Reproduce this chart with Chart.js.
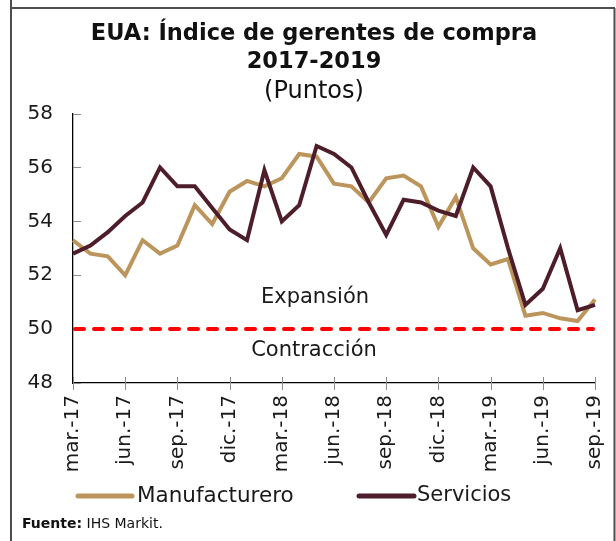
<!DOCTYPE html>
<html>
<head>
<meta charset="utf-8">
<script src="https://cdn.jsdelivr.net/npm/chart.js@4.4.1/dist/chart.umd.min.js"></script>
<style>
  html, body { margin: 0; padding: 0; background: #fff; }
  #wrap { position: relative; width: 616px; height: 541px; }
  canvas { display: block; }
</style>
</head>
<body>
<div id="wrap"><canvas id="c" width="616" height="541"></canvas></div>
<script>
// ---- data ----
const categories = [
  'mar.-17','abr.-17','may.-17','jun.-17','jul.-17','ago.-17','sep.-17','oct.-17','nov.-17','dic.-17',
  'ene.-18','feb.-18','mar.-18','abr.-18','may.-18','jun.-18','jul.-18','ago.-18','sep.-18','oct.-18',
  'nov.-18','dic.-18','ene.-19','feb.-19','mar.-19','abr.-19','may.-19','jun.-19','jul.-19','ago.-19','sep.-19'
];
const manufacturero = [
  53.3, 52.8, 52.7, 52.0, 53.3, 52.8, 53.1, 54.6, 53.9, 55.1,
  55.5, 55.3, 55.6, 56.5, 56.4, 55.4, 55.3, 54.7, 55.6, 55.7,
  55.3, 53.8, 54.9, 53.0, 52.4, 52.6, 50.5, 50.6, 50.4, 50.3, 51.1
];
const servicios = [
  52.8, 53.1, 53.6, 54.2, 54.7, 56.0, 55.3, 55.3, 54.5, 53.7,
  53.3, 55.9, 54.0, 54.6, 56.8, 56.5, 56.0, 54.7, 53.5, 54.8,
  54.7, 54.4, 54.2, 56.0, 55.3, 53.0, 50.9, 51.5, 53.0, 50.7, 50.9
];
const seriesNames = ['Manufacturero', 'Servicios'];
const yMin = 48, yMax = 58, yStep = 2;
const thresholdValue = 50;
const zoneLabels = ['Expansión', 'Contracción'];
const titleLines = ['EUA: Índice de gerentes de compra', '2017-2019'];
const subtitleText = '(Puntos)';
const sourceBold = 'Fuente:';
const sourceText = ' IHS Markit.';

// ---- styles ----
const FONT = "'DejaVu Sans', sans-serif";
const colTan = '#BC955C';
const colWine = '#4E1D2A';
const textCol = '#1a1a1a';

const decor = {
  id: 'decor',
  afterLayout(chart) {
    // let the y tick labels use the space to the left of the axis box (avoid clipping)
    const ys = chart.scales.y;
    ys.left = 0;
    ys.width = ys.right;
  },
  beforeDraw(chart) {
    const ctx = chart.ctx;
    ctx.save();
    ctx.fillStyle = '#fff';
    ctx.fillRect(0, 0, chart.width, chart.height);
    ctx.strokeStyle = '#4d4d4d';
    ctx.lineWidth = 2;
    ctx.beginPath();
    ctx.moveTo(11, 0); ctx.lineTo(11, chart.height);
    ctx.moveTo(10, 8); ctx.lineTo(615, 8);
    ctx.moveTo(614.5, 8); ctx.lineTo(614.5, chart.height);
    ctx.stroke();
    ctx.restore();
  },
  beforeDatasetsDraw(chart) {
    const ctx = chart.ctx, ca = chart.chartArea;
    const y = chart.scales.y, x = chart.scales.x;
    ctx.save();
    ctx.strokeStyle = '#8c8c8c';
    ctx.lineWidth = 1;
    for (let v = yMin; v <= yMax; v += yStep) {
      const py = Math.round(y.getPixelForValue(v)) + 0.5;
      ctx.beginPath(); ctx.moveTo(ca.left, py); ctx.lineTo(ca.left + 8, py); ctx.stroke();
    }
    for (let i = 0; i < categories.length; i += 3) {
      const px = Math.round(x.getPixelForValue(i)) + 0.5;
      ctx.beginPath(); ctx.moveTo(px, ca.bottom - 6); ctx.lineTo(px, ca.bottom + 7); ctx.stroke();
    }
    const ty = y.getPixelForValue(thresholdValue);
    ctx.strokeStyle = '#FF0000';
    ctx.lineWidth = 4;
    ctx.lineCap = 'round';
    ctx.setLineDash([9, 10]);
    ctx.beginPath(); ctx.moveTo(ca.left + 2, ty); ctx.lineTo(ca.right - 2, ty); ctx.stroke();
    ctx.setLineDash([]);
    ctx.fillStyle = textCol;
    ctx.font = '21px ' + FONT;
    ctx.textAlign = 'center';
    ctx.textBaseline = 'middle';
    ctx.fillText(zoneLabels[0], 315, ty - 32);
    ctx.fillText(zoneLabels[1], 314, ty + 21);
    ctx.restore();
  },
  afterDraw(chart) {
    const ctx = chart.ctx;
    ctx.save();
    const items = [
      {x0: 78, x1: 132, tx: 137},
      {x0: 359, x1: 414, tx: 417}
    ];
    const ly = 496;
    chart.data.datasets.forEach((ds, i) => {
      const it = items[i];
      ctx.strokeStyle = ds.borderColor;
      ctx.lineWidth = 5;
      ctx.lineCap = 'round';
      ctx.beginPath(); ctx.moveTo(it.x0, ly); ctx.lineTo(it.x1, ly); ctx.stroke();
      ctx.fillStyle = textCol;
      ctx.font = (i === 0 ? '21.5px ' : '21px ') + FONT;
      ctx.textAlign = 'left';
      ctx.textBaseline = 'middle';
      ctx.fillText(ds.label, it.tx, ly);
    });
    ctx.textBaseline = 'middle';
    ctx.textAlign = 'left';
    ctx.font = 'bold 14px ' + FONT;
    ctx.fillStyle = '#111';
    ctx.fillText(sourceBold, 22, 524);
    const w = ctx.measureText(sourceBold).width;
    ctx.font = '14px ' + FONT;
    ctx.fillText(sourceText, 22 + w, 524);
    ctx.restore();
  }
};

new Chart(document.getElementById('c'), {
  type: 'line',
  data: {
    labels: categories,
    datasets: [
      { label: seriesNames[0], data: manufacturero, borderColor: colTan, backgroundColor: colTan,
        borderWidth: 4, pointRadius: 0, tension: 0, order: 1 },
      { label: seriesNames[1], data: servicios, borderColor: colWine, backgroundColor: colWine,
        borderWidth: 4, pointRadius: 0, tension: 0, order: 0 }
    ]
  },
  options: {
    responsive: false,
    animation: false,
    devicePixelRatio: 1,
    layout: { padding: { top: 0, left: 33, right: 21, bottom: 58 } },
    plugins: {
      legend: { display: false },
      tooltip: { enabled: false },
      title: {
        display: true, text: titleLines, color: '#111',
        font: { family: FONT, size: 22.5, weight: 'bold', lineHeight: 28 / 22.5 },
        padding: { top: 20, bottom: 2 }
      },
      subtitle: {
        display: true, text: subtitleText, color: '#111',
        font: { family: FONT, size: 24, weight: 'normal', lineHeight: 1.15 },
        padding: { top: 0, bottom: 8 }
      }
    },
    scales: {
      x: {
        type: 'category',
        grid: { display: false, drawTicks: false },
        border: { display: true, color: '#000', width: 1.3 },
        ticks: {
          autoSkip: false, maxRotation: 90, minRotation: 90, padding: 12,
          color: textCol, font: { family: FONT, size: 20 },
          callback: (v, i) => (i % 3 === 0 ? categories[i] : '')
        },
        afterFit: (s) => { s.height = 100; s.paddingLeft = 0; s.paddingRight = 0; }
      },
      y: {
        min: yMin, max: yMax,
        grid: { display: false, drawTicks: false },
        border: { display: true, color: '#000', width: 1.3 },
        ticks: { stepSize: yStep, padding: 20, color: textCol, font: { family: FONT, size: 20 } },
        afterFit: (s) => { s.width = 40; s.paddingTop = 0; s.paddingBottom = 0; }
      }
    }
  },
  plugins: [decor]
});
</script>
</body>
</html>
